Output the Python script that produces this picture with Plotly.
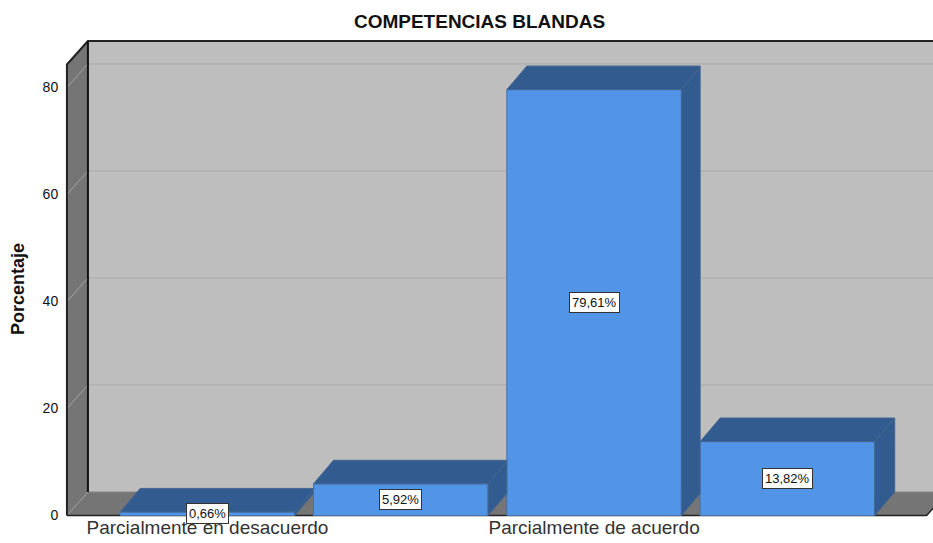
import plotly.graph_objects as go

title = "COMPETENCIAS BLANDAS"
y_title = "Porcentaje"
positions = [0, 1, 2, 3]
values = [0.66, 5.92, 79.61, 13.82]
shown_tick_positions = [0, 2]
shown_tick_labels = ["Parcialmente en desacuerdo", "Parcialmente de acuerdo"]
y_ticks = [0, 20, 40, 60, 80]

BAR_W = 0.903
DX = 0.1086      # depth of the 3D box along x, in category units
BAR_DX = 0.1035  # depth of a bar along x
DY = 4.4         # depth of the 3D box along y, in percent units
X0, X1 = -0.727, 3.72     # front floor edge
XR = (-0.737, 3.753)
YR = (-0.28, 88.88)
WALL_TOP = 84.3

WALL = "#bebebe"
SIDE = "#757575"
FRONT = "#5294e6"
DARK = "#325c8f"
EDGE = "#44668f"
GRID = "#ababab"
GRID_SIDE = "#a3a3a3"

fig = go.Figure()


def poly(xs, ys, fill, line=EDGE):
    fig.add_trace(go.Scatter(x=xs + xs[:1], y=ys + ys[:1], mode="lines", fill="toself",
                             fillcolor=fill, line=dict(color=line, width=1),
                             hoverinfo="skip", showlegend=False))


fig.add_trace(go.Bar(x=positions, y=values, width=BAR_W,
                     marker=dict(color=FRONT, line=dict(color="#4474ad", width=1)),
                     hoverinfo="skip", showlegend=False))

for i, (p, v) in enumerate(zip(positions, values)):
    l, r = p - BAR_W / 2, p + BAR_W / 2
    r2 = r + BAR_DX
    if i + 1 < len(positions):
        r2 = min(r2, positions[i + 1] - BAR_W / 2)
    f = (r2 - r) / BAR_DX
    poly([l, r, r2, r2, l + BAR_DX], [v, v, v + DY * f, v + DY, v + DY], DARK)
    poly([r, r2, r2, r], [0, DY * f, v + DY * f, v], DARK)

shapes = []


def path_shape(pts, fill=None, color=None, width=1):
    d = "M " + " L ".join(f"{x},{y}" for x, y in pts)
    if fill:
        d += " Z"
    shapes.append(dict(type="path", path=d, xref="x", yref="y", layer="below",
                       fillcolor=fill or "rgba(0,0,0,0)",
                       line=dict(color=color or "rgba(0,0,0,0)", width=width)))


BX = X0 + DX
path_shape([(BX, DY), (X1 + 2 * DX, DY), (X1 + 2 * DX, WALL_TOP + DY), (BX, WALL_TOP + DY)], fill=WALL)
path_shape([(X0, 0), (BX, DY), (BX, WALL_TOP + DY), (X0, WALL_TOP)], fill=SIDE)
path_shape([(X0, 0), (X1, 0), (X1 + DX, DY), (BX, DY)], fill=SIDE)
for t in y_ticks[1:]:
    path_shape([(BX, t + DY), (X1 + 2 * DX, t + DY)], color=GRID, width=1)
    path_shape([(X0, t), (BX, t + DY)], color=GRID_SIDE, width=1)
path_shape([(X0, 0), (BX, DY)], color="#9a9a9a", width=1)
path_shape([(BX, DY), (X1 + DX, DY)], color="#8a8a8a", width=1)
path_shape([(X0, 0), (X0, WALL_TOP), (BX, WALL_TOP + DY), (X1 + 2 * DX, WALL_TOP + DY)], color="#222222", width=2)
path_shape([(BX, DY), (BX, WALL_TOP + DY)], color="#111111", width=2)
path_shape([(X0, 0), (X1, 0), (X1 + DX, DY)], color="#222222", width=1.5)

annotations = [
    dict(x=p, y=v / 2, xref="x", yref="y", text=f"{v:.2f}%".replace(".", ","), showarrow=False,
         font=dict(family="Liberation Sans", size=13, color="#111111"),
         bgcolor="white", bordercolor="#333333", borderwidth=1, borderpad=2)
    for p, v in zip(positions, values)
]
annotations.append(dict(x=(18 - 65) / 868, y=1 - (289 - 40) / 477, xref="paper", yref="paper",
                        yanchor="middle", xanchor="center", text=f"<b>{y_title}</b>", textangle=-90,
                        showarrow=False,
                        font=dict(family="Liberation Sans", size=18, color="#111111")))

fig.update_layout(
    width=933, height=543, autosize=False,
    margin=dict(l=65, r=0, t=40, b=26),
    paper_bgcolor="white", plot_bgcolor="white",
    title=dict(text=f"<b>{title}</b>", x=0.514, xanchor="center", y=0.96, yanchor="middle",
               font=dict(family="Liberation Sans", size=19, color="#111111")),
    xaxis=dict(range=list(XR), tickvals=shown_tick_positions, ticktext=shown_tick_labels,
               automargin=False, showgrid=False, zeroline=False, showline=False, ticks="",
               ticklabelstandoff=-3,
               tickfont=dict(family="Liberation Sans", size=19, color="#333333")),
    yaxis=dict(range=list(YR), tickvals=y_ticks, automargin=False, showgrid=False, zeroline=False,
               showline=False, ticks="outside", ticklen=3, tickcolor="rgba(0,0,0,0)",
               tickfont=dict(family="Liberation Sans", size=14, color="#111111")),
    shapes=shapes, annotations=annotations,
)

fig.write_html("out.html", config={"displayModeBar": False},
               post_script="document.body.style.margin='0';document.documentElement.style.overflow='hidden';")
